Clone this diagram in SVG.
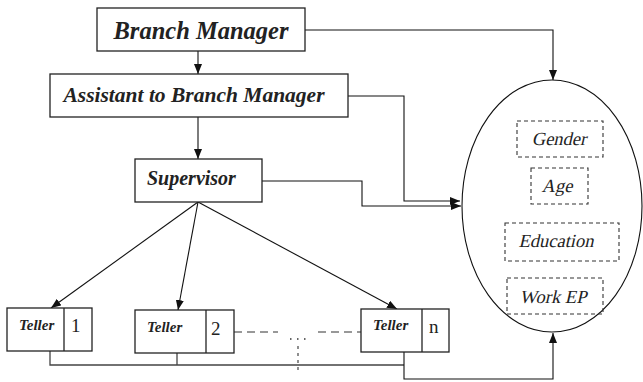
<svg xmlns="http://www.w3.org/2000/svg" width="643" height="382" viewBox="0 0 643 382">
<defs>
<marker id="ah" markerWidth="10" markerHeight="8" refX="10" refY="4" orient="auto" markerUnits="userSpaceOnUse">
<path d="M0,0 L10,4 L0,8 Z" fill="#111"/>
</marker>
<style>
.box{fill:#fff;stroke:#222;stroke-width:1.3}
.dbox{fill:none;stroke:#333;stroke-width:1.1;stroke-dasharray:4,3}
text{font-family:'Liberation Serif','Times New Roman',serif;fill:#222}
.t{font-weight:bold;font-style:italic}
.v{font-size:18.5px;text-anchor:middle}
.num{font-size:19px}
.c{fill:none;stroke:#444;stroke-width:1.3}
.a{fill:none;stroke:#111;stroke-width:1.1;marker-end:url(#ah)}
</style>
</defs>
<g id="connectors">
<path class="a" d="M198,51 V74"/>
<path class="a" d="M198,117 V159"/>
<path class="a" d="M305,30 H553 V80"/>
<path class="a" d="M348,96 H404 V201 H460"/>
<path class="a" d="M262,181 H362 V206 H461"/>
<line class="a" x1="198" y1="202" x2="51" y2="308"/>
<line class="a" x1="198" y1="202" x2="178" y2="310"/>
<line class="a" x1="198" y1="202" x2="397" y2="309"/>
<path class="c" d="M50,351 V365 H404"/>
<path class="c" d="M177,353 V365"/>
<path class="a" d="M404,352 V379 H553 V333"/>
<line x1="234" y1="332" x2="278" y2="332" stroke="#333" stroke-width="1.1" stroke-dasharray="8,5"/>
<line x1="318" y1="332" x2="361" y2="332" stroke="#333" stroke-width="1.1" stroke-dasharray="8,5"/>
<line x1="290" y1="339" x2="307" y2="339" stroke="#333" stroke-width="1.5" stroke-dasharray="1.5,5.5"/>
<line x1="298" y1="346" x2="298" y2="373" stroke="#333" stroke-width="1.1" stroke-dasharray="3,4"/>
</g>
<g id="branch-manager">
<rect class="box" x="97" y="8" width="208" height="43"/>
<text class="t" x="201" y="39" font-size="24.5" text-anchor="middle">Branch Manager</text>
</g>
<g id="assistant">
<rect class="box" x="50" y="74" width="298" height="43"/>
<text class="t" x="194" y="102" font-size="21.5" text-anchor="middle">Assistant to Branch Manager</text>
</g>
<g id="supervisor">
<rect class="box" x="135" y="159" width="127" height="43"/>
<text class="t" x="147" y="185" font-size="20">Supervisor</text>
</g>
<g id="teller1">
<rect class="box" x="7" y="308" width="85" height="43"/>
<line class="box" x1="64" y1="308" x2="64" y2="351"/>
<text class="t" x="19" y="330" font-size="15">Teller</text>
<text class="num" x="71" y="332">1</text>
</g>
<g id="teller2">
<rect class="box" x="135" y="310" width="99" height="43"/>
<line class="box" x1="206" y1="310" x2="206" y2="353"/>
<text class="t" x="147" y="332" font-size="15">Teller</text>
<text class="num" x="211" y="335">2</text>
</g>
<g id="tellern">
<rect class="box" x="361" y="309" width="88" height="43"/>
<line class="box" x1="422" y1="309" x2="422" y2="352"/>
<text class="t" x="373" y="330" font-size="15">Teller</text>
<text class="num" x="429" y="333">n</text>
</g>
<g id="ellipse">
<ellipse cx="552" cy="206" rx="90" ry="126" fill="none" stroke="#111" stroke-width="1.1"/>
</g>
<g id="gender">
<rect class="dbox" x="517" y="121" width="86" height="36"/>
<text class="v" transform="translate(559,145) skewX(-13)">Gender</text>
</g>
<g id="age">
<rect class="dbox" x="531" y="168" width="57" height="36"/>
<text class="v" transform="translate(557,192) skewX(-13)">Age</text>
</g>
<g id="education">
<rect class="dbox" x="505" y="223" width="114" height="38"/>
<text class="v" transform="translate(556,247) skewX(-13)">Education</text>
</g>
<g id="workep">
<rect class="dbox" x="507" y="278" width="96" height="36"/>
<text class="v" transform="translate(553,303) skewX(-13)">Work EP</text>
</g>
</svg>
